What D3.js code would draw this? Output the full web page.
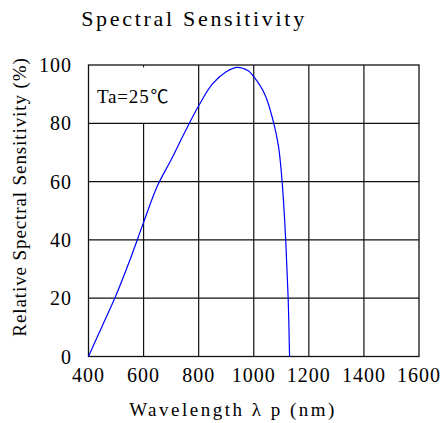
<!DOCTYPE html>
<html><head><meta charset="utf-8">
<script src="https://cdn.jsdelivr.net/npm/d3@7"></script>
<style>
html,body{margin:0;padding:0;background:#fff;}
</style></head>
<body>
<svg id="chart" width="443" height="423"></svg>
<script>
// Data
const wavelength = [400,450,500,550,600,650,700,750,800,850,900,940,980,1000,1040,1070,1090,1103,1116,1125,1130];
const sensitivity = [0,10.5,21,33,46,58.5,67.5,77,86,93.5,97.7,99.2,98,96,90,81,72,60,40,20,0];
const xTicks = [400,600,800,1000,1200,1400,1600];
const yTicks = [0,20,40,60,80,100];
const titleText = "Spectral Sensitivity";
const xLabel = "Wavelength  λ p (nm)";
const yLabel = "Relative Spectral Sensitivity (%)";
const noteMain = "Ta=25";
const noteUnit = "℃";

const FONT = "Liberation Serif";
const svg = d3.select("#chart");
const x = d3.scaleLinear().domain([400,1600]).range([88.5,419]);
const y = d3.scaleLinear().domain([0,100]).range([356.5,65]);

const g = svg.append("g");
// grid horizontals
g.selectAll("line.h").data(yTicks.filter(d=>d>0&&d<100)).enter().append("line")
  .attr("x1",x(400)).attr("x2",x(1600)).attr("y1",d=>y(d)).attr("y2",d=>y(d))
  .attr("stroke","#111").attr("stroke-width",1.2);
// grid verticals
g.selectAll("line.v").data(xTicks.filter(d=>d>400&&d<1600)).enter().append("line")
  .attr("x1",d=>x(d)).attr("x2",d=>x(d))
  .attr("y1",y(0)).attr("y2",d=>d===600?y(80):y(100))
  .attr("stroke","#111").attr("stroke-width",1.2);
// small tick at top for 600
g.append("line").attr("x1",x(600)).attr("x2",x(600)).attr("y1",y(100)).attr("y2",y(100)+2.5)
  .attr("stroke","#111").attr("stroke-width",1);
// border
g.append("rect").attr("x",x(400)).attr("y",y(100)).attr("width",x(1600)-x(400)).attr("height",y(0)-y(100))
  .attr("fill","none").attr("stroke","#111").attr("stroke-width",1.3);

// curve
const line = d3.line().x((d,i)=>x(wavelength[i])).y((d,i)=>y(sensitivity[i])).curve(d3.curveCatmullRom.alpha(0.5));
g.append("path").datum(sensitivity).attr("d",line).attr("fill","none").attr("stroke","#0000ff").attr("stroke-width",1.2);

// x tick labels
svg.selectAll("text.xt").data(xTicks).enter().append("text")
  .attr("x",d=>x(d)).attr("y",382).attr("text-anchor","middle").attr("font-family",FONT)
  .attr("font-size",20).attr("letter-spacing",1).text(d=>d);
// y tick labels
svg.selectAll("text.yt").data(yTicks).enter().append("text")
  .attr("x",72).attr("y",d=>y(d)+7).attr("text-anchor","end").attr("font-family",FONT)
  .attr("font-size",20).attr("letter-spacing",1).text(d=>d);

// title
svg.append("text").attr("x",194).attr("y",26).attr("text-anchor","middle").attr("font-family",FONT)
  .attr("font-size",22).attr("letter-spacing",2.7).text(titleText);
// x label
svg.append("text").attr("x",233).attr("y",416).attr("text-anchor","middle").attr("font-family",FONT)
  .attr("font-size",19).attr("letter-spacing",2.5).text(xLabel);
// y label
svg.append("text").attr("transform","translate(26,197) rotate(-90)").attr("text-anchor","middle").attr("font-family",FONT)
  .attr("font-size",19).attr("letter-spacing",0.9).text(yLabel);
// note
const note = svg.append("text").attr("x",97).attr("y",103).attr("font-family",FONT).attr("font-size",19);
note.append("tspan").attr("letter-spacing",0.8).text(noteMain);
note.append("tspan").attr("font-family","Noto Sans CJK SC").attr("font-size",18).attr("dx",1).text(noteUnit);
</script>
</body></html>
